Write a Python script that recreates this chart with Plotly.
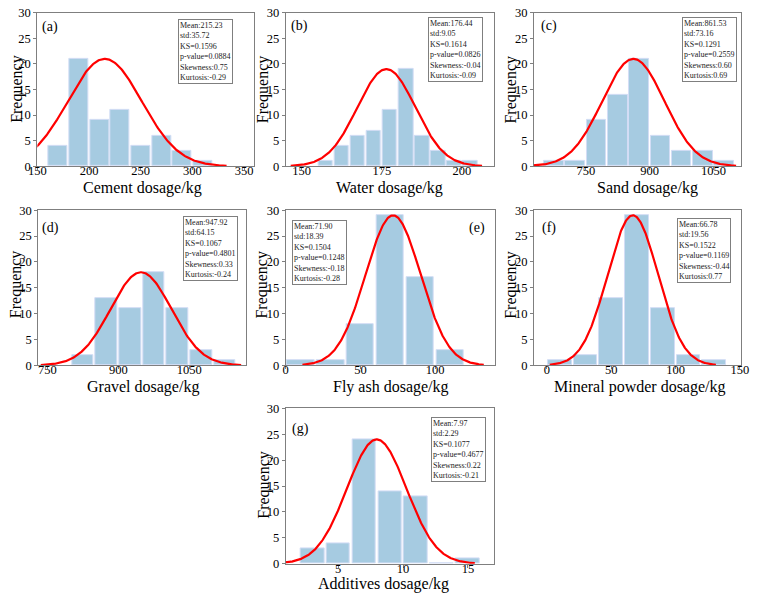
import numpy as np
import plotly.graph_objects as go

# ---------------- data ----------------
panel_labels = ["(a)", "(b)", "(c)", "(d)", "(e)", "(f)", "(g)"]
x_titles = ["Cement dosage/kg", "Water dosage/kg", "Sand dosage/kg", "Gravel dosage/kg",
            "Fly ash dosage/kg", "Mineral powder dosage/kg", "Additives dosage/kg"]

cement_counts = [4, 21, 9, 11, 4, 6, 3, 1]
water_counts = [1, 4, 6, 7, 11, 19, 6, 3, 1, 1]
sand_counts = [1, 1, 9, 14, 21, 6, 3, 3, 1]
gravel_counts = [2, 13, 11, 18, 11, 3, 1]
flyash_counts = [1, 1, 8, 29, 17, 3]
mineral_counts = [1, 2, 13, 29, 11, 2, 1]
additive_counts = [3, 4, 24, 14, 13, 0, 1]
counts = [cement_counts, water_counts, sand_counts, gravel_counts,
          flyash_counts, mineral_counts, additive_counts]

bin_starts = [160, 155, 650, 800, 0, 0, 2]
bin_widths = [20, 5, 50, 50, 20, 20, 2]

means = [215.23, 176.44, 861.53, 947.92, 71.90, 66.78, 7.97]
stds = [35.72, 9.05, 73.16, 64.15, 18.39, 19.56, 2.29]
means_txt = ["215.23", "176.44", "861.53", "947.92", "71.90", "66.78", "7.97"]
stds_txt = ["35.72", "9.05", "73.16", "64.15", "18.39", "19.56", "2.29"]
ks = ["0.1596", "0.1614", "0.1291", "0.1067", "0.1504", "0.1522", "0.1077"]
pvals = ["0.0884", "0.0826", "0.2559", "0.4801", "0.1248", "0.1169", "0.4677"]
skews = ["0.75", "-0.04", "0.60", "0.33", "-0.18", "-0.44", "0.22"]
kurts = ["-0.29", "-0.09", "0.69", "-0.24", "-0.28", "0.77", "-0.21"]
curve_peaks = [21, 19, 21, 18, 29, 29, 24]

x_ranges = [[150, 360], [145, 210], [628, 1115], [731, 1169], [0, 140], [-10, 151], [0.95, 17]]
x_ticks = [[150, 200, 250, 300, 350], [150, 175, 200], [750, 900, 1050], [750, 900, 1050],
           [0, 50, 100], [0, 50, 100, 150], [5, 10, 15]]
y_ticks = [0, 5, 10, 15, 20, 25, 30]

# ---------------- layout (pixels) ----------------
W, H = 759, 599
plot_boxes = [(29, 251, 6, 163), (283, 496, 6, 163), (537, 749, 6, 163),
              (30, 242, 208, 367), (283, 497, 208, 367), (537, 749, 208, 367),
              (283, 496, 411, 570)]
ytitle_pos = [(8, 84), (260, 84), (514, 84), (8, 284), (259, 284), (514, 284), (260, 489)]
xtitle_pos = [(137, 185), (389, 185), (653, 185), (137, 389), (391, 389), (645, 389), (383, 591)]
box_pos = [(173, 12), (429, 10), (688, 10), (178, 214), (289, 218), (683, 216), (432, 420)]
label_pos = [(42, 20), (297, 19), (552, 19), (42, 226), (479, 226), (552, 226), (298, 432)]

FONT = "Liberation Serif"
BAR_COLOR = "#a6cbe1"
BAR_EDGE = "#d3ddf5"
AXIS_COLOR = "#7f7f7f"

fig = go.Figure()

def px(x):
    return x / W

def py(y):
    return 1 - y / H

annotations = []
for i in range(7):
    xa = "x" if i == 0 else f"x{i+1}"
    ya = "y" if i == 0 else f"y{i+1}"
    c = counts[i]
    w = bin_widths[i]
    centers = [bin_starts[i] + (k + 0.5) * w for k in range(len(c))]
    fig.add_trace(go.Bar(x=centers, y=c, width=w * 0.92, xaxis=xa, yaxis=ya,
                         marker=dict(color=BAR_COLOR, line=dict(color=BAR_EDGE, width=1)),
                         showlegend=False, hoverinfo="skip"))
    m, s = means[i], stds[i]
    xs = np.linspace(m - 3.3 * s, m + 3.3 * s, 300)
    ys = curve_peaks[i] * np.exp(-0.5 * ((xs - m) / s) ** 2)
    fig.add_trace(go.Scatter(x=xs, y=ys, mode="lines", xaxis=xa, yaxis=ya,
                             line=dict(color="#ff0000", width=2.2), showlegend=False,
                             hoverinfo="skip"))

    l, r, t, b = plot_boxes[i]
    axis_common = dict(showline=True, linecolor=AXIS_COLOR, linewidth=1, mirror=True,
                       ticks="outside", ticklen=3, tickcolor=AXIS_COLOR, showgrid=False,
                       zeroline=False, tickfont=dict(family=FONT, size=12.5, color="black"))
    xkey = "xaxis" if i == 0 else f"xaxis{i+1}"
    ykey = "yaxis" if i == 0 else f"yaxis{i+1}"
    fig.update_layout(**{
        xkey: dict(domain=[px(l), px(r)], range=x_ranges[i], tickvals=x_ticks[i],
                   anchor=ya, ticklabelstandoff=-10, **axis_common),
        ykey: dict(domain=[py(b), py(t)], range=[0, 30], tickvals=y_ticks,
                   anchor=xa, ticklabelstandoff=0, **axis_common),
    })

    tx, ty = ytitle_pos[i]
    annotations.append(dict(text="Frequency", x=px(tx), y=py(ty), xref="paper", yref="paper",
                            showarrow=False, textangle=-90, xanchor="center", yanchor="middle",
                            font=dict(family=FONT, size=16, color="black")))
    tx, ty = xtitle_pos[i]
    annotations.append(dict(text=x_titles[i], x=px(tx), y=py(ty), xref="paper", yref="paper",
                            showarrow=False, xanchor="center", yanchor="middle",
                            font=dict(family=FONT, size=16, color="black")))
    tx, ty = label_pos[i]
    annotations.append(dict(text=panel_labels[i], x=px(tx), y=py(ty), xref="paper", yref="paper",
                            showarrow=False, xanchor="center", yanchor="middle",
                            font=dict(family=FONT, size=14, color="black")))
    stats = (f"Mean:{means_txt[i]}<br>std:{stds_txt[i]}<br>KS={ks[i]}<br>"
             f"p-value={pvals[i]}<br>Skewness:{skews[i]}<br>Kurtosis:{kurts[i]}")
    bx, by = box_pos[i]
    annotations.append(dict(text=stats, x=px(bx), y=py(by), xref="paper", yref="paper",
                            showarrow=False, xanchor="left", yanchor="top", align="left",
                            bgcolor="white", bordercolor=AXIS_COLOR, borderwidth=1, borderpad=1,
                            font=dict(family=FONT, size=8, color="#222222")))

fig.update_layout(width=W, height=H, margin=dict(l=0, r=0, t=0, b=0),
                  paper_bgcolor="white", plot_bgcolor="white", bargap=0,
                  annotations=annotations)

fig.write_html("out.html")
